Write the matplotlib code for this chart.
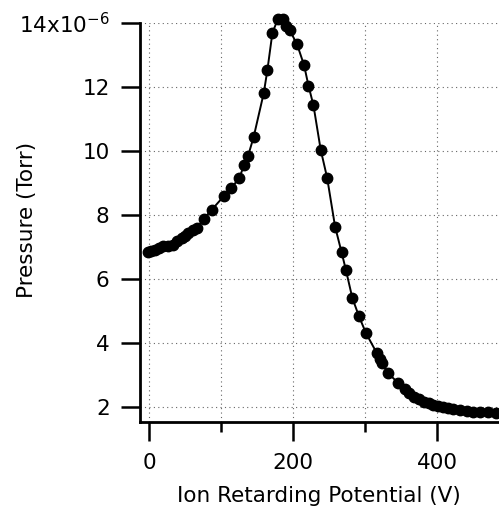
import matplotlib
matplotlib.use("Agg")
import matplotlib.pyplot as plt
from matplotlib.ticker import MultipleLocator

plt.rcParams['font.family'] = ['DejaVu Sans']
plt.rcParams['mathtext.fontset'] = 'dejavusans'

# ion retarding potential (V) and pressure (units of 1e-6 Torr)
voltage = [-2, 2, 8, 14, 19, 26, 33, 39, 45, 50, 54, 60, 66, 76, 87, 104, 114,
           125, 132, 137, 145, 159, 164, 171, 179, 185, 190, 195, 205, 215, 221,
           228, 238, 247, 258, 267, 273, 282, 291, 301, 316, 320, 323, 331, 346,
           355, 361, 367, 374, 381, 388, 394, 401, 408, 415, 422, 431, 441, 450,
           459, 470, 482]
pressure = [6.84, 6.88, 6.91, 6.97, 7.02, 7.04, 7.07, 7.2, 7.28, 7.35, 7.44,
            7.52, 7.59, 7.89, 8.17, 8.6, 8.84, 9.16, 9.57, 9.83, 10.44, 11.81,
            12.52, 13.69, 14.13, 14.1, 13.9, 13.76, 13.34, 12.67, 12.04, 11.42,
            10.04, 9.16, 7.64, 6.84, 6.29, 5.41, 4.85, 4.31, 3.69, 3.52, 3.38,
            3.08, 2.75, 2.56, 2.44, 2.33, 2.25, 2.18, 2.12, 2.07, 2.03, 2.0,
            1.97, 1.94, 1.91, 1.88, 1.86, 1.85, 1.84, 1.83]

y_ticks = [2, 4, 6, 8, 10, 12, 14]
y_labels = ['2', '4', '6', '8', '10', '12', r'14x10$^{\mathregular{-6}}$']
x_ticks = [0, 200, 400]

fig = plt.figure(figsize=(4.99, 5.18), dpi=100)
ax = fig.add_axes([0.2796, 0.1853, 0.7204, 0.7709])

ax.plot(voltage, pressure, '-o', color='black', lw=1.4, ms=7.5, clip_on=False, zorder=3)

ax.set_xlim(-13.6, 485.7)
ax.set_ylim(1.54, 14.0)

ax.set_xticks(x_ticks)
ax.xaxis.set_minor_locator(MultipleLocator(100))
ax.set_yticks(y_ticks)
ax.set_yticklabels(y_labels)

ax.grid(True, which='both', axis='x', color='0.4', linestyle=(0, (1, 3)), lw=0.8)
ax.grid(True, which='major', axis='y', color='0.4', linestyle=(0, (1, 3)), lw=0.8)

for side in ['top', 'right']:
    ax.spines[side].set_visible(False)
for side in ['left', 'bottom']:
    ax.spines[side].set_linewidth(2)

ax.tick_params(which='major', length=13.5, width=1.8, labelsize=15.5)
ax.tick_params(axis='x', which='major', pad=9)
ax.tick_params(axis='y', which='major', pad=8)
ax.tick_params(which='minor', length=7, width=1.8)

ax.set_xlabel('Ion Retarding Potential (V)', fontsize=15.5, labelpad=9)
ax.set_ylabel('Pressure (Torr)', fontsize=15.5)
ax.yaxis.set_label_coords(-0.285, 0.505)

fig.savefig('out.png', dpi=100)
